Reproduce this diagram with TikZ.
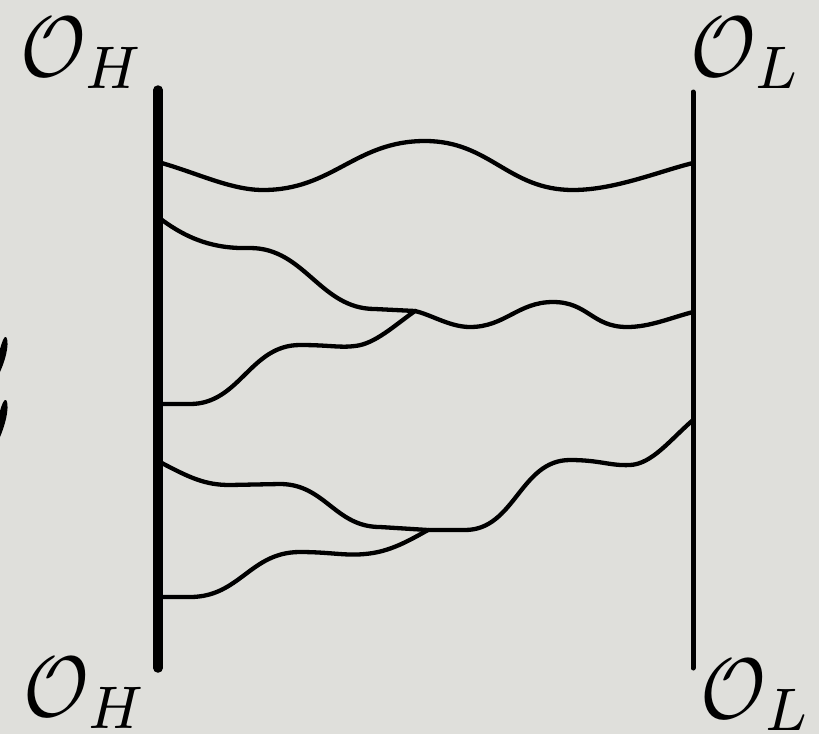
\documentclass[tikz,border=0pt]{standalone}
\definecolor{bg}{RGB}{223,223,219}
\begin{document}
\begin{tikzpicture}[x=1pt,y=-1pt,
  curve/.style={line width=4.3pt, line cap=round, line join=round},
  lab/.style={inner sep=0pt, xscale=8.0, yscale=8.6}]
\fill[bg] (0,0) rectangle (819,734);
\useasboundingbox (0,0) rectangle (819,734);
% vertical lines
\coordinate (LT) at (158,90); \coordinate (LB) at (158,668);
\coordinate (RT) at (693,92); \coordinate (RB) at (693,668);
\draw[line width=9.5pt, line cap=round] (LT) -- (LB);
\draw[line width=5pt, line cap=round] (RT) -- (RB);
% end points and junctions
\coordinate (a1) at (158,162); \coordinate (b1) at (693,163);
\coordinate (a2) at (158,217); \coordinate (b2) at (693,312);
\coordinate (a3) at (158,404);
\coordinate (a4) at (158,461); \coordinate (b4) at (693,420);
\coordinate (a5) at (158,597);
\coordinate (J1) at (415,311);
\coordinate (J2) at (428,530);
% curve 1
\draw[curve] (a1) .. controls (195,172) and (230,190) .. (263,190)
  .. controls (333,190) and (355,141) .. (425,141)
  .. controls (490,141) and (508,190) .. (573,190)
  .. controls (615,190) and (660,171) .. (b1);
% curve 2
\draw[curve] (a2) .. controls (188,240) and (215,249) .. (250,248)
  .. controls (305,248) and (320,309) .. (375,309) -- (J1)
  .. controls (432,315) and (450,327) .. (470,327)
  .. controls (505,327) and (518,302) .. (553,302)
  .. controls (588,302) and (592,327) .. (627,327)
  .. controls (650,327) and (670,318) .. (b2);
% curve 3
\draw[curve] (a3) -- (190,404) .. controls (240,404) and (250,345) .. (300,345)
  .. controls (330,345) and (340,348) .. (355,346)
  .. controls (375,344) and (395,325) .. (J1);
% curve 4
\draw[curve] (a4) .. controls (190,478) and (205,485) .. (230,485) -- (280,484)
  .. controls (325,484) and (335,527) .. (380,527) -- (J2) -- (465,530)
  .. controls (515,530) and (520,460) .. (570,460)
  .. controls (600,460) and (610,466) .. (630,465)
  .. controls (652,464) and (670,440) .. (b4);
% curve 5
\draw[curve] (a5) -- (190,597) .. controls (240,597) and (250,552) .. (300,552)
  .. controls (330,552) and (345,556) .. (365,554)
  .. controls (390,552) and (410,540) .. (J2);
% labels
\node[lab, anchor=base west] (OH1) at (19,76) {$\mathcal{O}_H$};
\node[lab, anchor=base west] (OL1) at (689,76) {$\mathcal{O}_L$};
\node[lab, anchor=base west] (OH2) at (22,716) {$\mathcal{O}_H$};
\node[lab, anchor=base west] (OL2) at (699,718) {$\mathcal{O}_L$};
% cut-off glyph at left edge
\fill (0,349) .. controls (2,342) and (4,336) .. (6,337) .. controls (9,340) and (8,354) .. (0,372) -- cycle;
\fill (0,411) .. controls (2,404) and (4,399) .. (6,400) .. controls (9,403) and (8,418) .. (0,437) -- cycle;
\end{tikzpicture}
\end{document}
